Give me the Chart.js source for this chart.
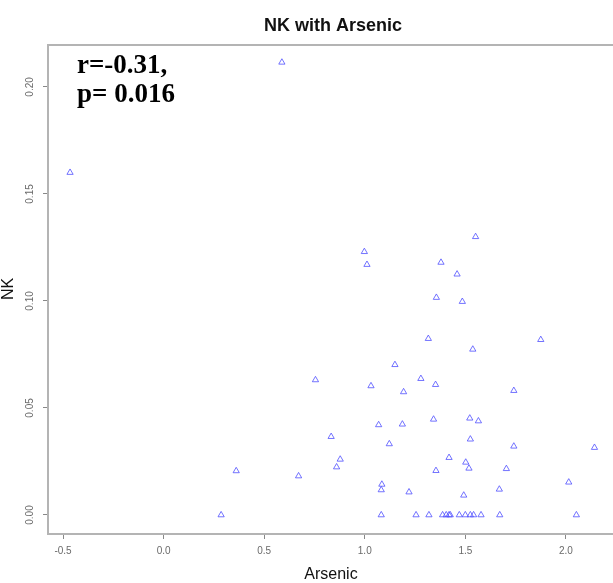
<!DOCTYPE html>
<html>
<head>
<meta charset="utf-8">
<script src="https://cdn.jsdelivr.net/npm/chart.js@4/dist/chart.umd.min.js"></script>
<style>
  html, body { margin: 0; padding: 0; background: #fff; overflow: hidden; }
  #clip { width: 613px; height: 583px; overflow: hidden; }
  #wrap { width: 618px; height: 583px; position: relative; }
</style>
</head>
<body>
<div id="clip"><div id="wrap"><canvas id="nkChart"></canvas></div></div>
<script>
// ── Data ──────────────────────────────────────────────────────────
const arsenic = [
    0.588, -0.465, 1.551, 0.998, 1.011, 1.379, 1.459, 1.356, 1.485, 1.316,
    1.875, 1.537, 1.150, 0.755, 1.279, 1.031, 1.352, 1.193, 1.741, 1.069,
    1.187, 1.342, 1.522, 1.565, 0.833, 1.122, 1.525, 1.741, 2.142, 0.878,
    1.419, 1.502, 0.860, 1.354, 1.518, 1.704, 0.671, 2.014, 1.085, 1.082,
    1.220, 1.669, 1.492, 0.361,
    0.286, 1.082, 1.255, 1.319, 1.387, 1.405, 1.419, 1.425, 1.470, 1.500,
    1.525, 1.541, 1.578, 1.671, 2.052
];
const nk = [
    0.2115, 0.160, 0.130, 0.123, 0.117, 0.118, 0.1125, 0.1016, 0.0997, 0.0824,
    0.0819, 0.0774, 0.0702, 0.0631, 0.0637, 0.0603, 0.0609, 0.0575, 0.0581, 0.0421,
    0.0424, 0.0447, 0.0452, 0.0439, 0.0366, 0.0332, 0.0354, 0.0321, 0.0315, 0.0260,
    0.0268, 0.0246, 0.0224, 0.0207, 0.0218, 0.0216, 0.0182, 0.0153, 0.0143, 0.0117,
    0.0107, 0.0120, 0.0092, 0.0206,
    0, 0, 0, 0, 0, 0, 0, 0, 0, 0,
    0, 0, 0, 0, 0
];
const xTicks = [-0.5, 0.0, 0.5, 1.0, 1.5, 2.0];
const yTicks = [0.00, 0.05, 0.10, 0.15, 0.20];
const statLines = ['r=-0.31,', 'p= 0.016'];

const BOX = '#b4b4b4';
const TICK_TXT = '#6a6a6a';

// ── Plugin: box top, rotated y labels, titles, stats text ─────────
const rDecor = {
    id: 'rDecor',
    afterDraw(chart) {
        const ctx = chart.ctx;
        const a = chart.chartArea;
        const ys = chart.scales.y;
        ctx.save();

        // top edge of the box
        ctx.strokeStyle = BOX;
        ctx.lineWidth = 2;
        ctx.beginPath();
        ctx.moveTo(a.left - 1, a.top);
        ctx.lineTo(a.right, a.top);
        ctx.stroke();

        // y tick labels, parallel to the axis like R
        ctx.fillStyle = TICK_TXT;
        ctx.font = '10px "Liberation Sans", Arial, sans-serif';
        ctx.textAlign = 'center';
        ctx.textBaseline = 'middle';
        yTicks.forEach(v => {
            const py = ys.getPixelForValue(v);
            ctx.save();
            ctx.translate(30, py);
            ctx.rotate(-Math.PI / 2);
            ctx.fillText(v.toFixed(2), 0, 0);
            ctx.restore();
        });

        // main title
        ctx.fillStyle = '#111';
        ctx.font = 'bold 18px "Liberation Sans", Arial, sans-serif';
        ctx.textBaseline = 'alphabetic';
        ctx.fillText('NK with Arsenic', 333, 31);

        // axis titles
        ctx.font = '16px "Liberation Sans", Arial, sans-serif';
        ctx.fillText('Arsenic', 331, 579);
        ctx.save();
        ctx.translate(13, 289);
        ctx.rotate(-Math.PI / 2);
        ctx.fillText('NK', 0, 0);
        ctx.restore();

        // correlation text
        ctx.fillStyle = '#000';
        ctx.font = 'bold 27px "Liberation Serif", "Times New Roman", serif';
        ctx.textAlign = 'left';
        ctx.fillText(statLines[0], 77, 73);
        ctx.fillText(statLines[1], 77, 102);

        ctx.restore();
    }
};

const points = arsenic.map((x, i) => ({ x, y: nk[i] }));

new Chart(document.getElementById('nkChart'), {
    type: 'scatter',
    data: {
        datasets: [{
            data: points,
            pointStyle: 'triangle',
            pointRadius: 3.6,
            pointHoverRadius: 3.6,
            pointBorderWidth: 1,
            pointBorderColor: 'rgba(80,80,255,0.8)',
            pointBackgroundColor: 'rgba(0,0,0,0)'
        }]
    },
    options: {
        responsive: true,
        maintainAspectRatio: false,
        animation: false,
        events: [],
        layout: { padding: { top: 45, right: 0, left: 0, bottom: 0 } },
        plugins: { legend: { display: false }, tooltip: { enabled: false }, title: { display: false } },
        scales: {
            x: {
                type: 'linear',
                min: -0.5746,
                max: 2.236,
                afterFit: s => { s.height = 49; },
                afterBuildTicks: s => { s.ticks = xTicks.map(v => ({ value: v })); },
                ticks: {
                    color: TICK_TXT,
                    font: { family: '"Liberation Sans", Arial, sans-serif', size: 10 },
                    padding: 6,
                    maxRotation: 0,
                    autoSkip: false,
                    callback: v => v.toFixed(1)
                },
                grid: { drawOnChartArea: false, drawTicks: true, tickLength: 5, color: '#888', lineWidth: 1 },
                border: { display: true, color: BOX, width: 2 }
            },
            y: {
                type: 'linear',
                min: -0.00888,
                max: 0.2196,
                afterFit: s => { s.width = 48; },
                afterBuildTicks: s => { s.ticks = yTicks.map(v => ({ value: v })); },
                ticks: { color: 'rgba(0,0,0,0)', font: { size: 10 }, padding: 4, callback: v => v.toFixed(2) },
                grid: { drawOnChartArea: false, drawTicks: true, tickLength: 5, color: '#888', lineWidth: 1 },
                border: { display: true, color: BOX, width: 2 }
            }
        }
    },
    plugins: [rDecor]
});
</script>
</body>
</html>
